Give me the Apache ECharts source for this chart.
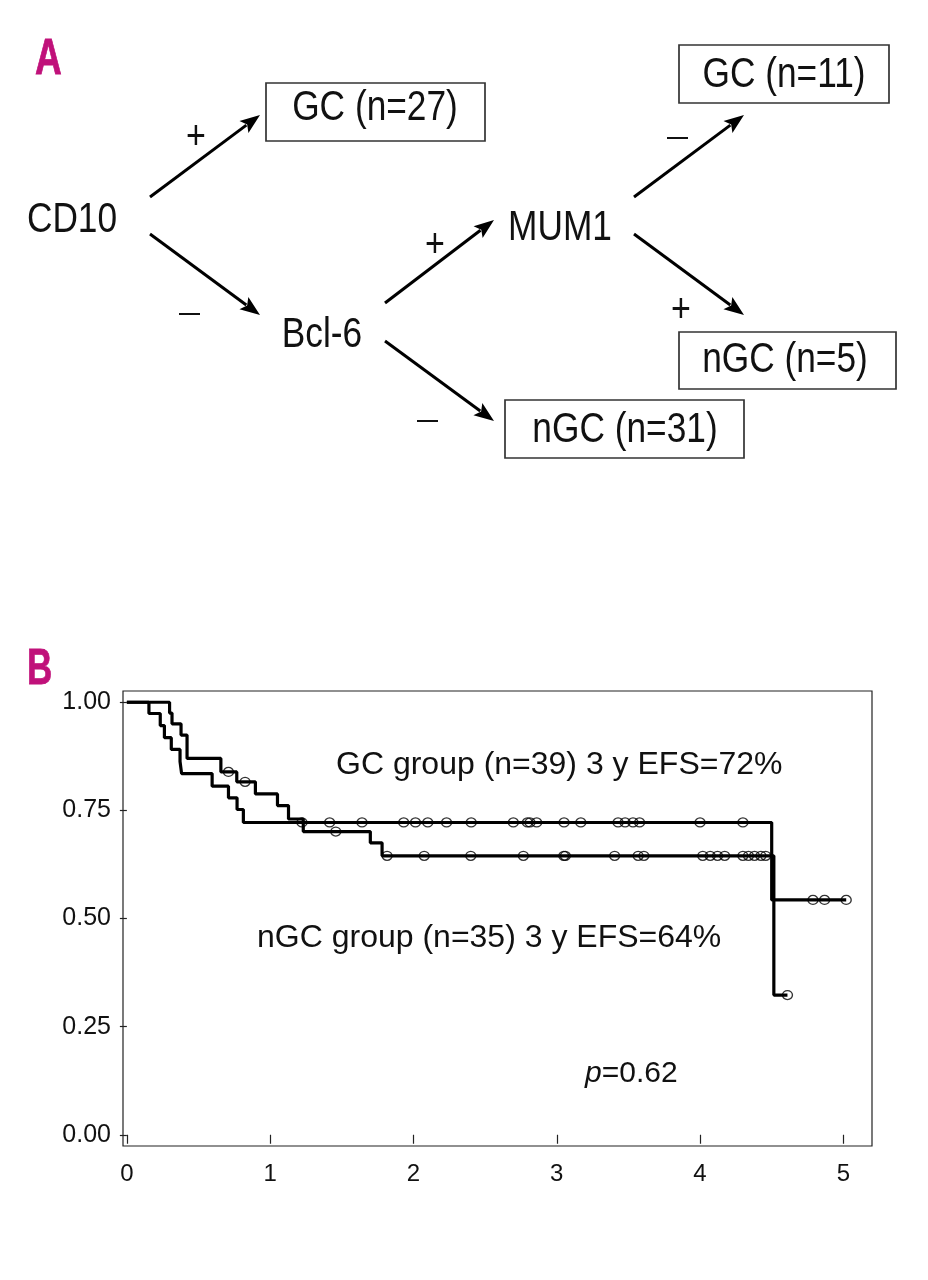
<!DOCTYPE html>
<html><head><meta charset="utf-8">
<script src="https://cdn.jsdelivr.net/npm/echarts@6.0.0/dist/echarts.min.js"></script>
<style>html,body{margin:0;padding:0;background:#fff}#c{width:928px;height:1280px}</style>
</head><body><div id="c"></div>
<script>
// ---- Panel B data (Kaplan-Meier) ----
const gcTimes  = [0, 0.154, 0.233, 0.262, 0.310, 0.371, 0.382, 0.595, 0.709, 0.769, 0.813, 4.500, 5.02];
const gcSurv   = [1, 0.974, 0.946, 0.918, 0.891, 0.863, 0.835, 0.806, 0.779, 0.752, 0.722, 0.543, 0.543];
const gcCensor = [1.222, 1.415, 1.641, 1.932, 2.014, 2.100, 2.231, 2.403, 2.697, 2.795, 2.813, 2.860, 3.051, 3.168, 3.428, 3.477, 3.532, 3.578, 4.000, 4.299, 4.788, 4.869, 5.02];
const ngcTimes  = [0, 0.298, 0.315, 0.378, 0.420, 0.656, 0.767, 0.897, 1.051, 1.128, 1.231, 1.699, 1.781, 4.515, 4.61];
const ngcSurv   = [1, 0.975, 0.950, 0.924, 0.870, 0.839, 0.816, 0.788, 0.761, 0.730, 0.701, 0.675, 0.645, 0.323, 0.323];
const ngcCensor = [0.709, 0.825, 1.458, 1.816, 2.075, 2.400, 2.767, 3.049, 3.060, 3.404, 3.568, 3.608, 4.019, 4.071, 4.122, 4.172, 4.299, 4.338, 4.380, 4.425, 4.458, 4.61];
const xTicks = [0, 1, 2, 3, 4, 5];
const yTicks = [0, 0.25, 0.5, 0.75, 1];
const gcLabel  = 'GC group (n=39) 3 y EFS=72%';
const ngcLabel = 'nGC group (n=35) 3 y EFS=64%';
const pValue   = '0.62';
// ---- Panel A texts ----
const panelLetters = ['A', 'B'];
const nodeLabels = ['CD10', 'Bcl-6', 'MUM1'];
const boxLabels  = ['GC (n=27)', 'GC (n=11)', 'nGC (n=5)', 'nGC (n=31)'];
const plusLabel = '+';

function survAt(times, surv, t) {
  let s = surv[0];
  for (let i = 0; i < times.length; i++) if (times[i] <= t) s = surv[i];
  return s;
}
const zip = (a, b) => a.map((v, i) => [v, b[i]]);

// ---- layout ----
const REG = "'Liberation Sans',Arial,sans-serif";
const MAG = '#C0117A';
function txt(text, x, y, font, align, sx, fill, stroke) {
  const st = { text, x: 0, y: 0, font, fill: fill || '#111', align: align || 'center', textAlign: align || 'center',
      verticalAlign: 'middle', textVerticalAlign: 'middle' };
  if (stroke) { st.stroke = fill; st.lineWidth = stroke; }
  return { type: 'text', silent: true, z: 10, x, y, scaleX: sx || 1, scaleY: 1, style: st };
}
function arrow(x1, y1, x2, y2) {
  const dx = x2 - x1, dy = y2 - y1, L = Math.hypot(dx, dy), ux = dx / L, uy = dy / L;
  const hl = 20, hw = 7.5;
  const bx = x2 - ux * hl, by = y2 - uy * hl;
  return [
    { type: 'line', silent: true, shape: { x1, y1, x2: bx + ux * 3, y2: by + uy * 3 }, style: { stroke: '#000', lineWidth: 3 } },
    { type: 'polygon', silent: true, shape: { points: [[x2, y2], [bx - uy * hw, by + ux * hw], [bx + ux * 4, by + uy * 4], [bx + uy * hw, by - ux * hw]] }, style: { fill: '#000' } }
  ];
}
function box(x, y, w, h) {
  return { type: 'rect', silent: true, shape: { x, y, width: w, height: h }, style: { fill: '#fff', stroke: '#333', lineWidth: 1.7 } };
}
function minus(x1, x2, y) {
  return { type: 'line', silent: true, shape: { x1, y1: y, x2, y2: y }, style: { stroke: '#111', lineWidth: 2 } };
}
const FA = '42px ' + REG, SA = 0.84;
const graphics = [];
graphics.push(txt(panelLetters[0], 35, 60, 'bold 50px ' + REG, 'left', 0.74, MAG, 0.8));
graphics.push(txt(panelLetters[1], 27, 670, 'bold 50px ' + REG, 'left', 0.70, MAG, 0.8));
// boxes
const boxGeo = [[266, 83, 219, 58, 375, 108], [679, 45, 210, 58, 784, 75], [679, 332, 217, 57, 785, 360], [505, 400, 239, 58, 625, 430]];
boxGeo.forEach((g, i) => { graphics.push(box(g[0], g[1], g[2], g[3])); graphics.push(txt(boxLabels[i], g[4], g[5], FA, 'center', SA)); });
// nodes
const nodeGeo = [[72, 220], [322, 335], [560, 228]];
nodeGeo.forEach((g, i) => graphics.push(txt(nodeLabels[i], g[0], g[1], FA, 'center', SA)));
// arrows
[[150, 197, 260, 115], [150, 234, 260, 315], [385, 303, 494, 220], [385, 341, 494, 421], [634, 197, 744, 115], [634, 234, 744, 315]]
  .forEach(a => graphics.push(...arrow(a[0], a[1], a[2], a[3])));
// signs
[[196, 138], [435, 246], [681, 311]].forEach(g => graphics.push(txt(plusLabel, g[0], g[1], '40px ' + REG, 'center', 0.85)));
graphics.push(minus(179, 200, 314), minus(417, 438, 421), minus(667, 688, 138));
// panel B annotations
graphics.push(txt(gcLabel, 336, 765, '32px ' + REG, 'left'));
graphics.push(txt(ngcLabel, 257, 938, '32px ' + REG, 'left'));
graphics.push({ type: 'text', silent: true, z: 10,
  style: { text: '{i|p}{n|=' + pValue + '}', x: 585, y: 1074, align: 'left', textAlign: 'left', verticalAlign: 'middle', textVerticalAlign: 'middle',
    font: '30px ' + REG, fill: '#111',
    rich: { i: { fontStyle: 'italic', fontSize: 30, fontFamily: REG, fill: '#111' }, n: { fontSize: 30, fontFamily: REG, fill: '#111' } } } });

const chart = echarts.init(document.getElementById('c'), null, { renderer: 'canvas' });
chart.setOption({
  animation: false,
  backgroundColor: '#fff',
  grid: { left: 123, right: 56, top: 691, bottom: 134, show: true, borderColor: '#222', borderWidth: 1.2, backgroundColor: 'transparent' },
  xAxis: {
    type: 'value', min: -0.027, max: 5.2,
    axisLine: { show: false }, splitLine: { show: false },
    axisTick: { show: true, length: 9, customValues: xTicks, lineStyle: { color: '#222', width: 1.2 } },
    axisLabel: { customValues: xTicks, margin: 16, fontSize: 24, fontFamily: REG, color: '#111', formatter: v => String(v) }
  },
  yAxis: {
    type: 'value', min: -0.026, max: 1.026,
    axisLine: { show: false }, splitLine: { show: false },
    axisTick: { show: true, length: 7, customValues: yTicks, lineStyle: { color: '#222', width: 1.2 } },
    axisLabel: { customValues: yTicks, margin: 12, fontSize: 25, fontFamily: REG, color: '#111', formatter: v => v.toFixed(2) }
  },
  series: [
    { type: 'line', step: 'end', data: zip(gcTimes, gcSurv), symbol: 'none', lineStyle: { color: '#000', width: 3.2 }, z: 3 },
    { type: 'line', step: 'end', data: zip(ngcTimes, ngcSurv), symbol: 'none', lineStyle: { color: '#000', width: 3.2 }, z: 3 },
    { type: 'scatter', data: gcCensor.map(t => [t, survAt(gcTimes, gcSurv, t)]), symbol: 'circle', symbolSize: [10, 9],
      itemStyle: { color: 'rgba(255,255,255,0)', borderColor: '#000', borderWidth: 1.3 }, z: 4 },
    { type: 'scatter', data: ngcCensor.map(t => [t, survAt(ngcTimes, ngcSurv, t)]), symbol: 'circle', symbolSize: [10, 9],
      itemStyle: { color: 'rgba(255,255,255,0)', borderColor: '#000', borderWidth: 1.3 }, z: 4 }
  ],
  graphic: { elements: graphics }
});
</script></body></html>
